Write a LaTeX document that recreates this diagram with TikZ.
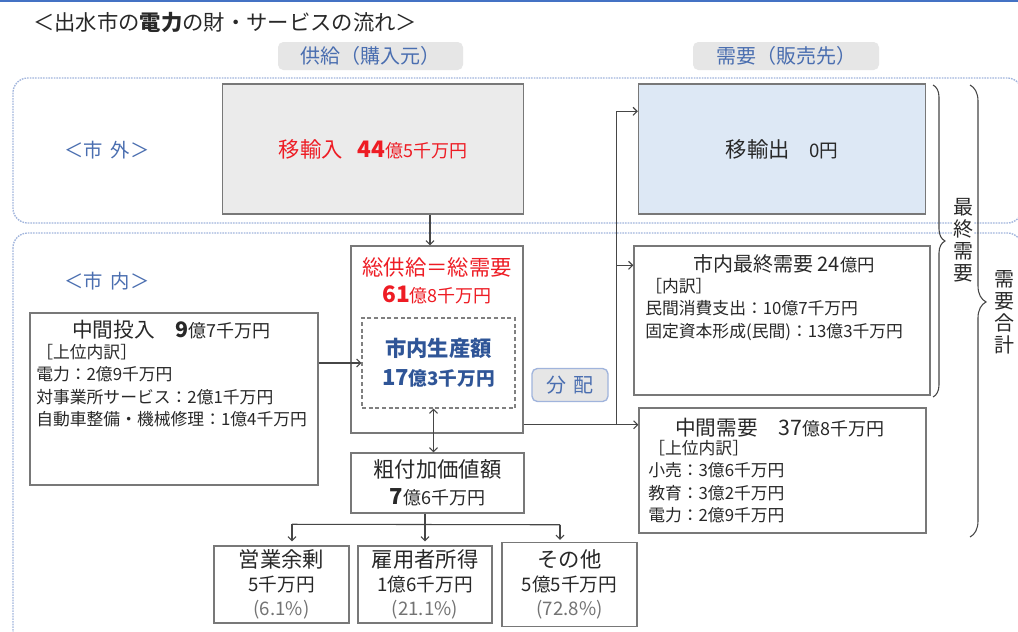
\documentclass[tikz,border=0pt]{standalone}
\usepackage{fontspec}
\setmainfont{Noto Sans CJK JP}
\usetikzlibrary{arrows.meta,calc,decorations.pathreplacing}
\definecolor{jred}{RGB}{238,28,36}
\definecolor{jblue}{RGB}{47,85,151}
\definecolor{lblue}{RGB}{74,110,176}
\definecolor{rgnblue}{RGB}{160,180,220}
\definecolor{topblue}{RGB}{68,114,196}
\definecolor{boxgray}{RGB}{120,120,120}
\definecolor{txt}{RGB}{40,40,40}
\definecolor{connc}{RGB}{70,70,70}
\definecolor{impfill}{RGB}{235,235,235}
\definecolor{expfill}{RGB}{221,232,245}
\definecolor{tagfill}{RGB}{230,230,230}
\def\pxu{0.75pt}
\newcommand\jfs[1]{\fontsize{#1}{#1}\selectfont}
\begin{document}
\begin{tikzpicture}[x=0.75pt,y=-0.75pt,
  box/.style={draw=boxgray, line width=1.1pt, inner sep=0pt, fill=white, text=txt},
  conn/.style={draw=connc, line width=0.8pt},
  arr/.style={conn, -{Straight Barb[length=3pt,width=6pt]}},
  region/.style={draw=rgnblue, line width=1pt, dash pattern=on 1.2pt off 0.8pt, rounded corners=11pt},
  tagbox/.style={fill=tagfill, rounded corners=4pt, text=lblue, inner sep=0pt, font=\fontsize{15}{18}\selectfont},
  lines/.style={anchor=north west, align=left, inner sep=0pt, text=txt, font=\fontsize{12.6}{16.7}\selectfont},
  brc/.style={draw=connc, line width=0.8pt, decorate}
]
\clip (0,0) rectangle (1018,632);
\fill[white] (0,0) rectangle (1018,632);
\draw[topblue, line width=1.5pt] (0,1) -- (1018,1);

% title and headers
\node[anchor=west, text=txt, inner sep=0pt, font=\fontsize{16}{18}\selectfont] (title) at (33,22) {＜出水市の{\bfseries 電力}の財・サービスの流れ＞};
\node[tagbox, minimum width=185*\pxu, minimum height=28*\pxu] (sup) at (370.5,56) {供給（購入元）};
\node[tagbox, minimum width=186*\pxu, minimum height=28*\pxu] (dem) at (786,56) {需要（販売先）};

% regions
\draw[region] (13,78) rectangle (1022,223);
\draw[region] (13,233) rectangle (1022,645);
\node[text=lblue, font=\fontsize{14.5}{17}\selectfont] (out) at (107,150) {＜市\hspace{0.4em}外＞};
\node[text=lblue, font=\fontsize{14.5}{17}\selectfont] (in) at (107,281) {＜市\hspace{0.4em}内＞};

% boxes
\node[box, fill=impfill, text=jred, minimum width=301*\pxu, minimum height=130*\pxu, font=\fontsize{16}{18}\selectfont] (imp) at (373,149)
  {移輸入\hspace{0.7em}{\bfseries\jfs{17}44}{\jfs{13.5}億5千万円}};
\node[box, fill=expfill, minimum width=287*\pxu, minimum height=130*\pxu, font=\fontsize{16}{18}\selectfont] (exp) at (782,149)
  {移輸出\hspace{0.9em}{\jfs{14}0円}};

\node[box, minimum width=172*\pxu, minimum height=187*\pxu] (tot) at (437,339.5) {};
\node[text=jred, align=center, font=\fontsize{16}{20.5}\selectfont] (totlab) at (437,281)
  {総供給＝総需要\\{\bfseries\jfs{17}61}{\jfs{13.5}億8千万円}};
\node[draw=gray, line width=1pt, dash pattern=on 3pt off 2pt, minimum width=153*\pxu, minimum height=90*\pxu, inner sep=0pt,
  text=jblue, align=center, font=\bfseries\fontsize{16}{22}\selectfont] (dash) at (438.5,363)
  {市内生産額\\{\jfs{16.5}17}{\jfs{14}億3千万円}};

\node[box, minimum width=288*\pxu, minimum height=172*\pxu] (mid) at (174,399) {};
\node[anchor=west, inner sep=0pt, text=txt, font=\fontsize{15.5}{18}\selectfont] (midh) at (72,330)
  {中間投入\hspace{1em}{\bfseries\jfs{16}9}{\jfs{13.5}億7千万円}};
\node[lines] (midl) at (36,344) {［上位内訳］\\電力：2億9千万円\\対事業所サービス：2億1千万円\\自動車整備・機械修理：1億4千万円};

\node[box, minimum width=173*\pxu, minimum height=60*\pxu, align=center, font=\fontsize{16}{20.5}\selectfont] (gva) at (437.5,483)
  {粗付加価値額\\{\bfseries\jfs{16.5}7}{\jfs{13.5}億6千万円}};

\node[box, minimum width=135*\pxu, minimum height=77*\pxu, align=center, font=\fontsize{14}{18}\selectfont] (op) at (281.5,584.5)
  {{\jfs{16}営業余剰}\\5千万円\\{\color{gray!90!black}(6.1\%)}};
\node[box, minimum width=134*\pxu, minimum height=77*\pxu, align=center, font=\fontsize{14}{18}\selectfont] (emp) at (425,584.5)
  {{\jfs{16}雇用者所得}\\1億6千万円\\{\color{gray!90!black}(21.1\%)}};
\node[box, minimum width=135*\pxu, minimum height=84*\pxu, align=center, font=\fontsize{14}{18}\selectfont] (oth) at (569.5,584.5)
  {{\jfs{16}その他}\\5億5千万円\\{\color{gray!90!black}(72.8\%)}};

\node[box, minimum width=296*\pxu, minimum height=149*\pxu] (fin) at (782,320.5) {};
\node[inner sep=0pt, text=txt, font=\fontsize{15}{18}\selectfont] (finh) at (784,264) {市内最終需要 24{\jfs{13}億円}};
\node[lines] (finl) at (645,278) {［内訳］\\民間消費支出：10億7千万円\\固定資本形成(民間)：13億3千万円};

\node[box, minimum width=287*\pxu, minimum height=125*\pxu] (intd) at (782.5,470.5) {};
\node[anchor=west, inner sep=0pt, text=txt, font=\fontsize{15.5}{18}\selectfont] (intdh) at (675,428)
  {中間需要\hspace{1em}{\jfs{16}37}{\jfs{13.5}億8千万円}};
\node[lines] (intdl) at (648,440) {［上位内訳］\\小売：3億6千万円\\教育：3億2千万円\\電力：2億9千万円};

\node[tagbox, draw=rgnblue, line width=1pt, minimum width=76*\pxu, minimum height=33*\pxu] (dist) at (570,385) {分\hspace{0.35em}配};

% connectors
\draw[arr] ($(imp.south)+(57,0)$) -- ($(tot.north)+(-7,0)$);
\draw[arr] (mid.east |- dash.west) -- (dash.west);
\draw[conn, {Straight Barb[length=3pt,width=6pt]}-{Straight Barb[length=3pt,width=6pt]}] ($(dash.south)+(-5,0)$) -- ($(gva.north)+(-4,0)$);

\coordinate (bj) at ($(gva.south)+(-12.5,12)$);
\draw[conn] ($(gva.south)+(-12.5,0)$) -- (bj);
\draw[conn] ($(op.north)+(10.5,-21)$) -- ($(oth.north)+(-9.5,-17)$);
\draw[arr] ($(op.north)+(10.5,-21)$) -- ($(op.north)+(10.5,-4)$);
\draw[arr] (bj) -- ($(emp.north)+(0,-4)$);
\draw[arr] ($(oth.north)+(-9.5,-17)$) -- ($(oth.north)+(-9.5,-2)$);

\coordinate (jt) at ($(tot.south east)+(0,-9)$);
\coordinate (ea) at ($(exp.north west)+(0,28)$);
\coordinate (fa) at ($(fin.north west)+(0,20)$);
\coordinate (vx) at ($(jt)+(93,0)$);
\draw[arr] (jt) -- (jt -| intd.west);
\draw[conn] (vx) -- (vx |- ea);
\draw[arr] (vx |- ea) -- (ea);
\draw[arr] (vx |- fa) -- (fa);

% braces
\draw[brc, decoration={brace, amplitude=9pt}] (933,85) -- (933,397);
\draw[brc, decoration={brace, amplitude=12pt, aspect=0.48}] (970,85) -- (970,537);
\node[fill=white, inner sep=1pt, align=center, text=txt, font=\fontsize{15}{16.5}\selectfont] (fdlab) at (963,240) {最\\終\\需\\要};
\node[fill=white, inner sep=1pt, align=center, text=txt, font=\fontsize{15}{16.5}\selectfont] (tdlab) at (1004,312) {需\\要\\合\\計};
\end{tikzpicture}
\end{document}
